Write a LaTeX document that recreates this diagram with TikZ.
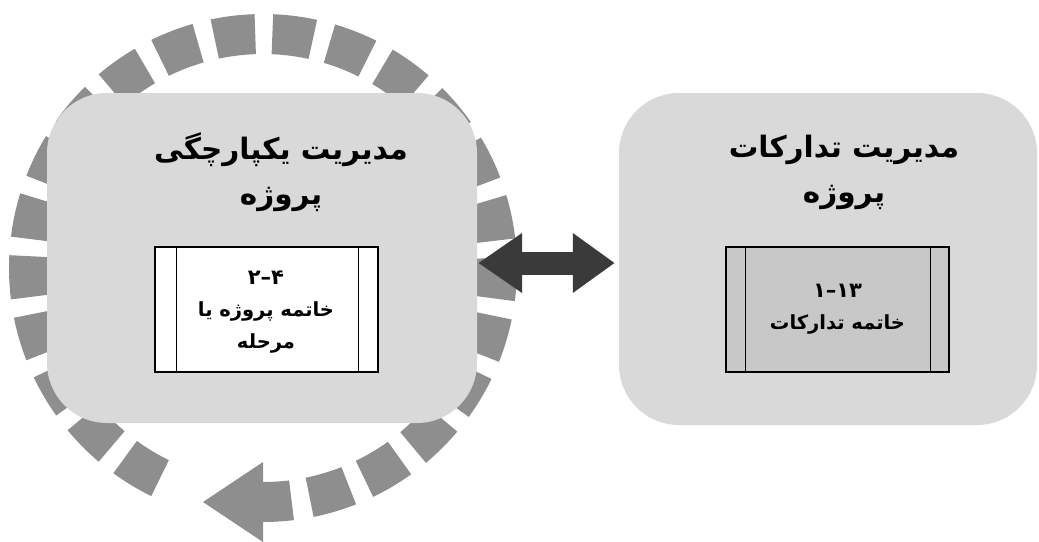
\documentclass[tikz,border=0pt]{standalone}
\usepackage{fontspec}
\usetikzlibrary{arrows.meta}
\TeXXeTstate=1
\newfontfamily\fa[Script=Arabic]{DejaVu Sans}
\definecolor{boxgray}{HTML}{D9D9D9}
\definecolor{ringgray}{HTML}{8E8E8E}
\definecolor{innergray}{HTML}{C8C8C8}
\definecolor{arrowdark}{HTML}{3A3A3A}
\begin{document}
\begin{tikzpicture}[x=1pt,y=-1pt,
  areabox/.style={fill=boxgray, rounded corners=60pt, inner sep=0pt},
  procbox/.style={draw=black, line width=1.4pt, inner sep=0pt,
    minimum width=223pt, minimum height=125pt, align=center,
    font=\fa\bfseries\fontsize{19.5}{32}\selectfont},
  titletext/.style={align=center, inner sep=0pt,
    font=\fa\bfseries\fontsize{29.5}{45}\selectfont},
  ringpiece/.style={fill=ringgray},
  dblarrow/.style={draw=arrowdark, line width=23pt,
    {Triangle[length=44pt,width=57pt]}-{Triangle[length=42pt,width=57pt]}}]
\useasboundingbox (0,0) rectangle (1039,541);

% dashed cycle ring around the integration area
\coordinate (c) at (263,268);
\foreach \i in {0,...,22}{
  \pgfmathsetmacro\aa{286.5+14.2*\i-5}
  \pgfmathsetmacro\ab{286.5+14.2*\i+5}
  \fill[ringpiece] ([shift={(c)}]\aa:254pt)
    arc[start angle=\aa, end angle=\ab, radius=254pt]
    -- ([shift={(c)}]\ab:214pt)
    arc[start angle=\ab, end angle=\aa, radius=214pt] -- cycle;
}
% arrow at the end of the ring
\fill[ringpiece] ([shift={(c)}]270:254pt)
  arc[start angle=270, end angle=277, radius=254pt]
  -- ([shift={(c)}]277:214pt)
  arc[start angle=277, end angle=270, radius=214pt] -- cycle;
\fill[ringpiece] (263,462) -- (203,502) -- (263,542) -- cycle;

% knowledge areas
\node[areabox, minimum width=430pt, minimum height=330pt] (L) at (262,258) {};
\node[areabox, minimum width=418pt, minimum height=332pt] (R) at (828,259) {};

\node[titletext] (Lt) at (281,172)
  {\beginR مدیریت یکپارچگی\endR\\\beginR پروژه\endR};
\node[titletext] (Rt) at (844,172)
  {\beginR مدیریت تدارکات\endR\\\beginR پروژه\endR};

% processes
\node[procbox, fill=white] (Lp) at (266.5,309.5) {};
\node[procbox, draw=none, minimum height=0pt] (Lpt) at (266,312.5)
  {\fontsize{21}{32}\selectfont ۴–۲\\\beginR خاتمه پروژه یا\endR\\\beginR مرحله\endR};
\draw[line width=1.4pt] ([xshift=22pt]Lp.north west) -- ([xshift=22pt]Lp.south west);
\draw[line width=1.4pt] ([xshift=-20pt]Lp.north east) -- ([xshift=-20pt]Lp.south east);

\node[procbox, fill=innergray] (Rp) at (837.5,309.5)
  {\fontsize{21}{30}\selectfont ۱۳–۱\\\beginR خاتمه تدارکات\endR};
\draw[line width=1.4pt] ([xshift=20pt]Rp.north west) -- ([xshift=20pt]Rp.south west);
\draw[line width=1.4pt] ([xshift=-19pt]Rp.north east) -- ([xshift=-19pt]Rp.south east);

% link between the two areas
\draw[dblarrow, shorten >=4pt, shorten <=1pt] ([yshift=-5pt]L.east) -- ([yshift=-4pt]R.west);
\end{tikzpicture}
\end{document}
